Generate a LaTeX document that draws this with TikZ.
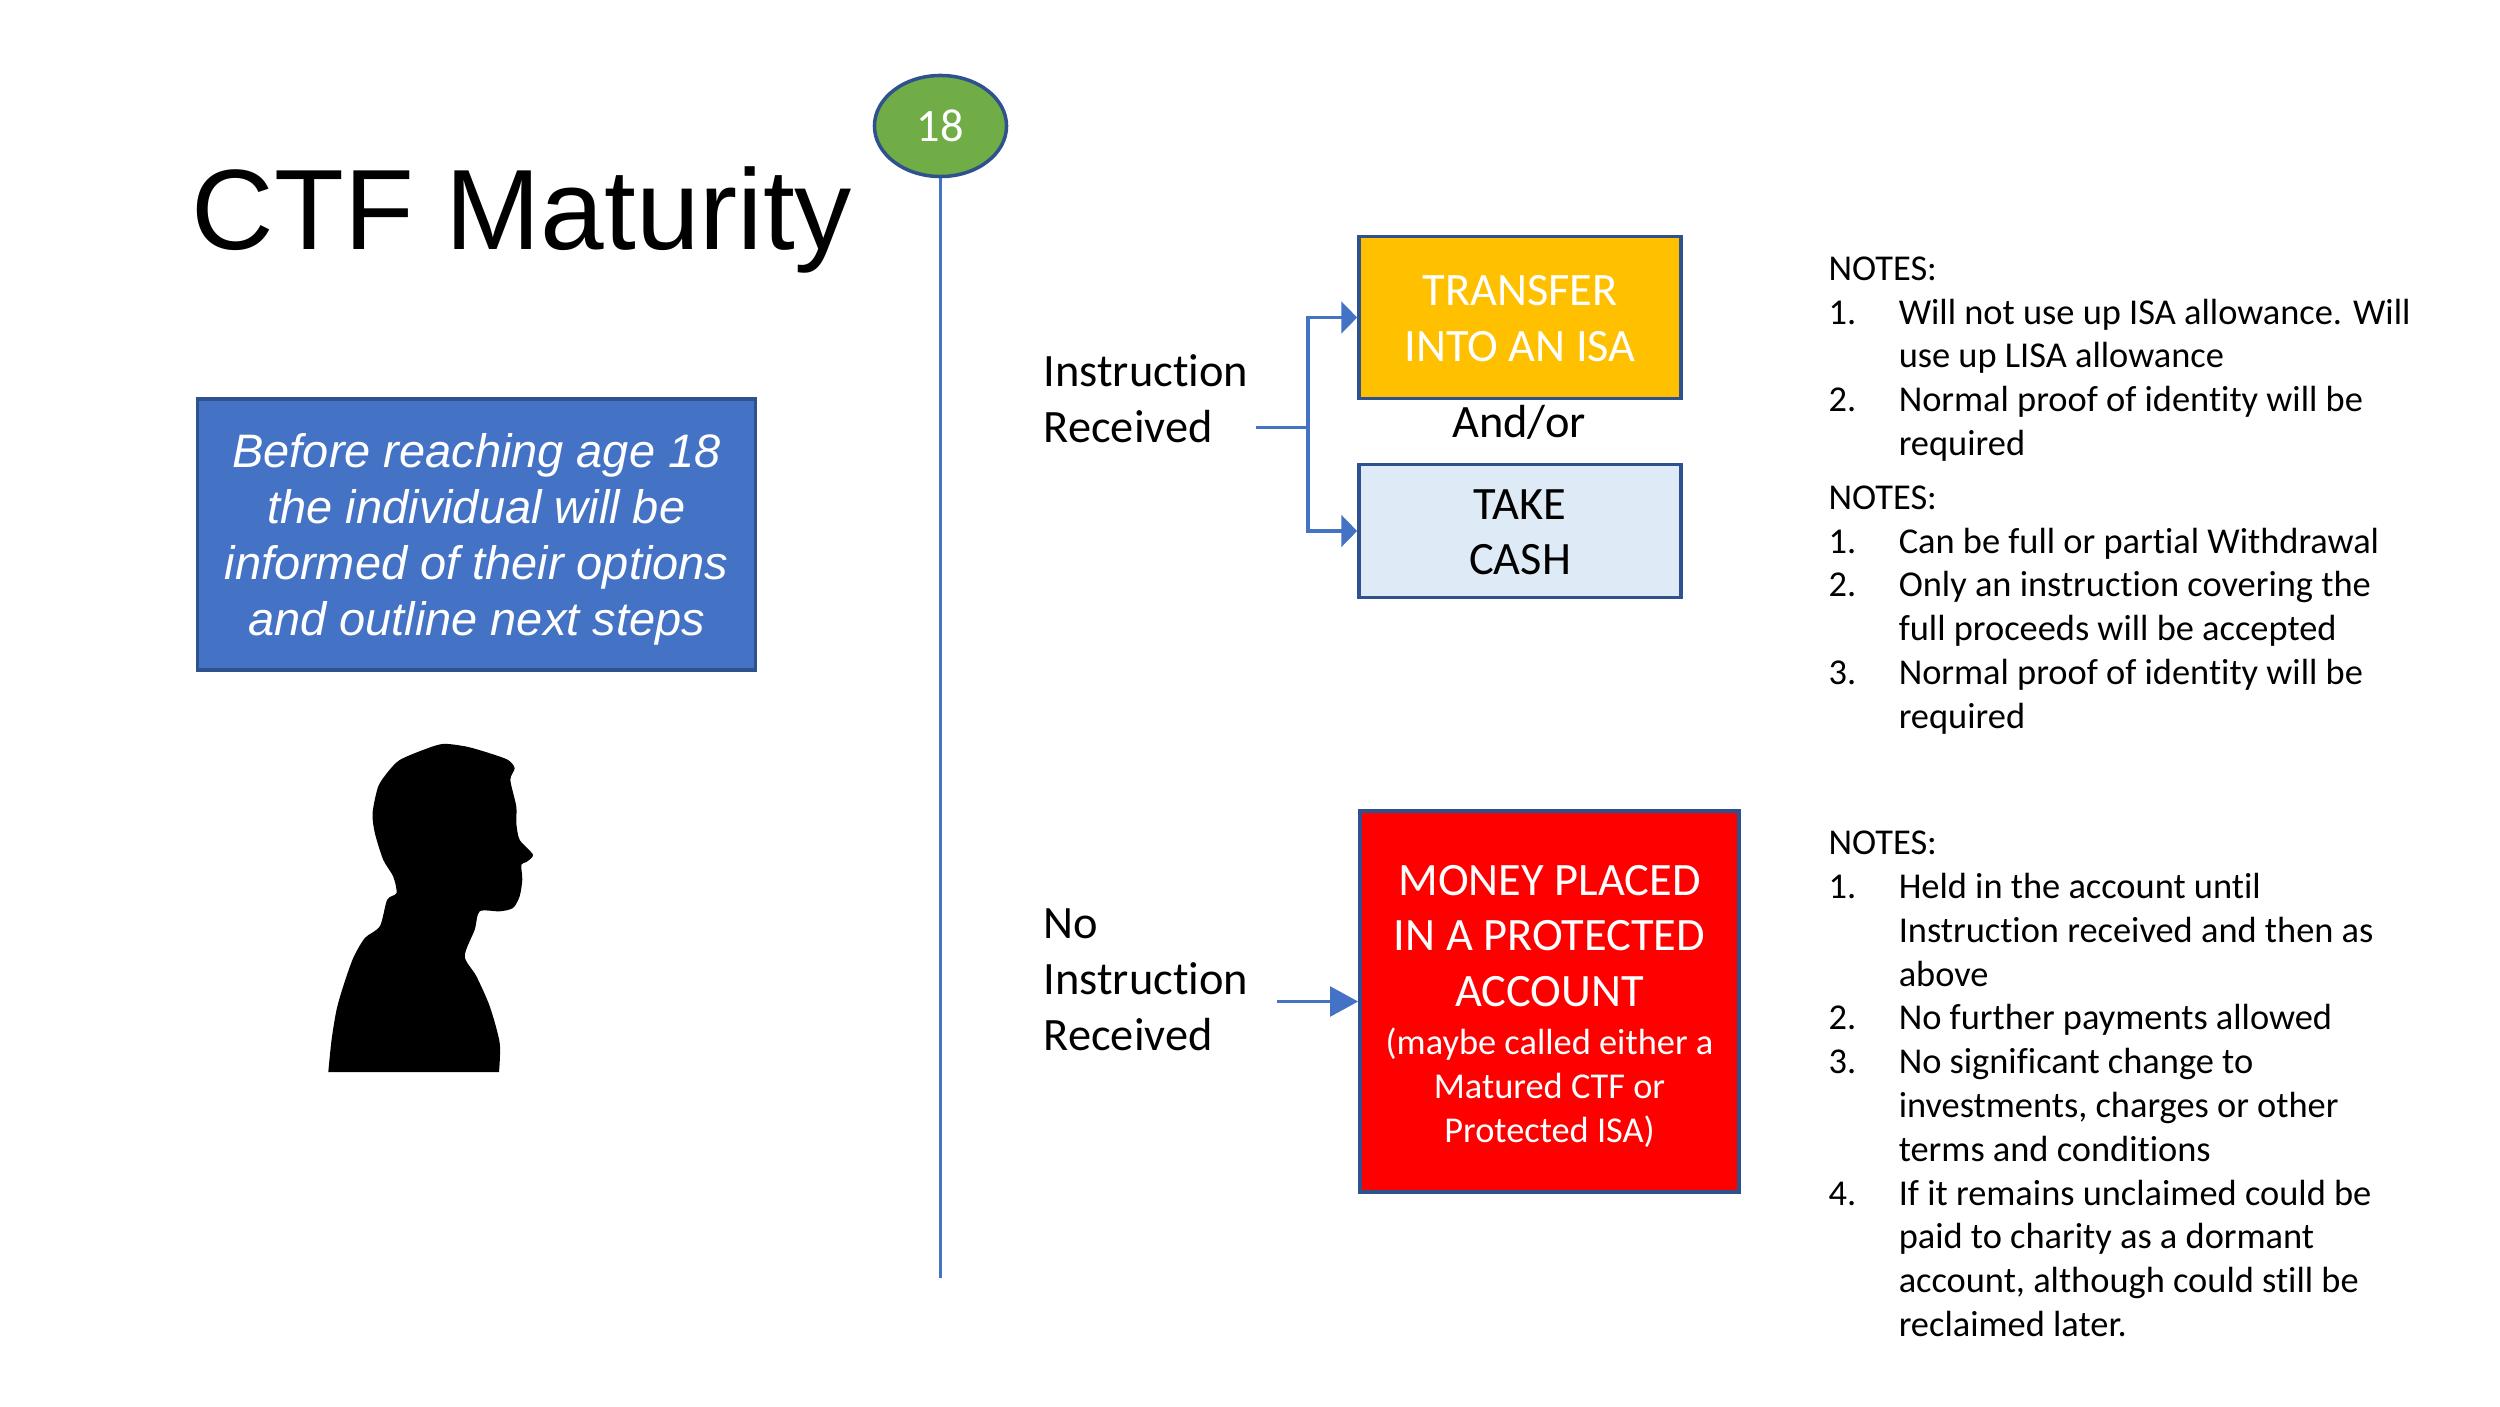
\documentclass[tikz,border=0pt]{standalone}
\usepackage{fontspec}
\setmainfont[Ligatures=CommonOff]{Carlito}
\newfontfamily\titlefont{Liberation Sans}
\usetikzlibrary{arrows.meta, positioning, shapes.geometric}

\definecolor{edgeblue}{HTML}{2F528F}
\definecolor{linkblue}{HTML}{4472C4}
\definecolor{agegreen}{HTML}{70AD47}
\definecolor{isayellow}{HTML}{FFC000}
\definecolor{cashblue}{HTML}{DEEBF7}

\newcommand{\bigtext}{\fontsize{13.2}{15.9}\selectfont}
\newcommand{\smalltext}{\fontsize{10.35}{12.45}\selectfont}
\newcommand{\num}[1]{\makebox[0.7cm][l]{#1}}

\begin{document}
\begin{tikzpicture}[
					x=0.01cm, y=-0.01cm,
					box/.style={rectangle, draw=edgeblue, line width=1pt, align=center, inner sep=0pt},
					label/.style={inner sep=0pt, align=left, anchor=west, font=\bigtext},
					notes/.style={inner sep=0pt, align=left, anchor=north west, font=\smalltext},
					link/.style={draw=linkblue, line width=0.9pt}
				]
				\useasboundingbox (0,0) rectangle (2500,1406);

				% Title and timeline
				\node[inner sep=0pt, anchor=base west, font=\titlefont\fontsize{32.5}{36}\selectfont] (title) at (191,249) {CTF Maturity};
				\node[ellipse, draw=edgeblue, line width=1pt, fill=agegreen, text=white, inner sep=0pt, minimum width=1.32cm, minimum height=1.01cm, font=\bigtext] (age) at (940.5,126) {18};
				\coordinate (lineend) at (940.5,1278);
				\draw[link, line width=0.75pt] (age) -- (lineend);

				% Left box
				\node[box, fill=linkblue, text=white, minimum width=5.58cm, minimum height=2.71cm, font=\titlefont\itshape\fontsize{13.35}{15.9}\selectfont] (before) at (476.5,534.5) {\rule{0pt}{12.3pt}Before reaching age 18\\the individual will be\\informed of their options\\and outline next steps};

				% Silhouette
				\fill[black, shift={(300,700)}, x=0.00333cm, y=-0.00333cm] plot[smooth, tension=0.45] coordinates {(85,1118) (95,1020) (110,930) (130,860) (160,775) (195,715) (240,680) (262,600) (290,580) (280,530) (250,480) (225,400) (218,340) (235,260) (265,215) (300,180) (370,150) (430,132) (500,140) (570,160) (625,180) (645,205) (632,240) (650,320) (650,370) (660,420) (700,465) (680,487) (665,495) (668,540) (660,590) (640,625) (600,635) (540,635) (525,690) (495,770) (530,830) (570,920) (600,1030) (598,1118)} -- cycle;

				% Instruction received
				\node[label] (recv) at (1043,399) {Instruction\\Received};
				\node[box, fill=isayellow, text=white, minimum width=3.22cm, minimum height=1.62cm, font=\bigtext] (transfer) at (1520,317.5) {\rule{0pt}{9.2pt}TRANSFER\\INTO AN ISA};
				\node[box, fill=cashblue, minimum width=3.22cm, minimum height=1.33cm, font=\bigtext] (cash) at (1520,531) {\rule{0pt}{9.2pt}TAKE\\CASH};
				\node[inner sep=0pt, font=\bigtext] (andor) at (1519,422) {And/or};
				\coordinate (start) at (1256,427.5);
				\coordinate (split) at (1308,427.5);
				\draw[link] (start) -- (split);
				\draw[link, -{Triangle[length=4.5pt, width=9pt]}] (split) |- (transfer);
				\draw[link, -{Triangle[length=4.5pt, width=9pt]}] (split) |- (cash);

				% No instruction received
				\node[label] (norecv) at (1043,979.5) {No\\Instruction\\Received};
				\node[box, fill=red, text=white, minimum width=3.79cm, minimum height=3.81cm, font=\bigtext] (money) at (1549.5,1001.5) {\rule{0pt}{11.2pt}MONEY PLACED\\IN A PROTECTED\\ACCOUNT\\[-2.3pt]\smalltext (maybe called either a\\[-3.45pt]\smalltext Matured CTF or\\[-3.45pt]\smalltext Protected ISA)};
				\coordinate (nostart) at (1277,1001.5);
				\draw[link, -{Triangle[length=8pt, width=8.5pt]}] (nostart) -- (money);

				% Notes
				\node[notes] (notesa) at (1828,256) {NOTES:\\\num{1.}Will not use up ISA allowance. Will\\\num{}use up LISA allowance\\\num{2.}Normal proof of identity will be\\\num{}required};
				\node[notes] (notesb) at (1828,485) {NOTES:\\\num{1.}Can be full or partial Withdrawal\\\num{2.}Only an instruction covering the\\\num{}full proceeds will be accepted\\\num{3.}Normal proof of identity will be\\\num{}required};
				\node[notes] (notesc) at (1828,830.5) {NOTES:\\\num{1.}Held in the account until\\\num{}Instruction received and then as\\\num{}above\\\num{2.}No further payments allowed\\\num{3.}No significant change to\\\num{}investments, charges or other\\\num{}terms and conditions\\\num{4.}If it remains unclaimed could be\\\num{}paid to charity as a dormant\\\num{}account, although could still be\\\num{}reclaimed later.};
			\end{tikzpicture}
\end{document}
